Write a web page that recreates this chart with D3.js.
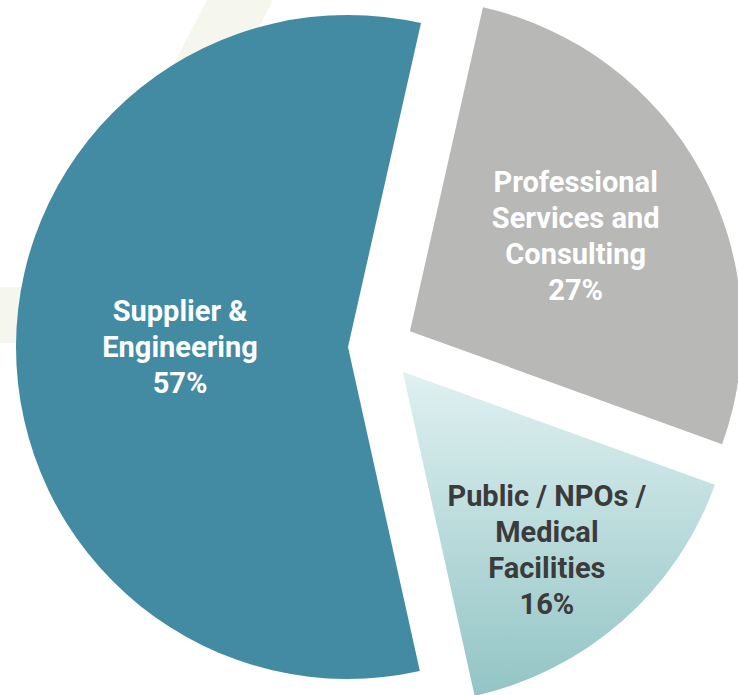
<!DOCTYPE html>
<html>
<head>
<meta charset="utf-8">
<script src="https://cdn.jsdelivr.net/npm/d3@7"></script>
<style>
  html, body { margin: 0; padding: 0; background: #ffffff; }
  svg { display: block; }
  text { font-family: Roboto, "Noto Sans", sans-serif; font-weight: 700; }
</style>
</head>
<body>
<svg id="chart" width="738" height="695"></svg>
<script>
// ---- data ----
const categories = ["Professional Services and Consulting", "Public / NPOs / Medical Facilities", "Supplier & Engineering"];
const values = [27, 16, 57];
const labelLines = [
  ["Professional", "Services and", "Consulting", "27%"],
  ["Public / NPOs /", "Medical", "Facilities", "16%"],
  ["Supplier &", "Engineering", "57%"]
];

// ---- style ----
const colors = ["#b8b8b7", "url(#pubGrad)", "#428ba3"];
const textColors = ["#ffffff", "#3b3b3b", "#ffffff"];
const labelRadius = [191, 229, 168];
const labelAngleShift = [-1.1, 2.3, 0]; // degrees

const W = 738, H = 695;
const cx = 381, cy = 347, R = 332, explode = 33;
const startDeg = 12.7;

const svg = d3.select("#chart");
const defs = svg.append("defs");
const g1 = defs.append("linearGradient").attr("id", "pubGrad")
  .attr("x1", 0).attr("y1", 0).attr("x2", 0).attr("y2", 1);
g1.append("stop").attr("offset", "0%").attr("stop-color", "#e0f1f1");
g1.append("stop").attr("offset", "100%").attr("stop-color", "#93c4c5");

// faint background decoration
const deco = svg.append("g").attr("fill", "#f5f6ee");
deco.append("path").attr("d", "M207,0 L273,0 L200,140 L134,140 Z");
deco.append("rect").attr("x", 0).attr("y", 287).attr("width", 120).attr("height", 56);

const pie = d3.pie().sort(null).value(d => d)
  .startAngle(startDeg * Math.PI / 180)
  .endAngle(startDeg * Math.PI / 180 + 2 * Math.PI);
const arcs = pie(values);
const arc = d3.arc().innerRadius(0).outerRadius(R);

const root = svg.append("g").attr("transform", `translate(${cx},${cy})`);

const slices = root.selectAll("g.slice").data(arcs).enter().append("g")
  .attr("class", "slice")
  .attr("transform", d => {
    const a = (d.startAngle + d.endAngle) / 2;
    return `translate(${explode * Math.sin(a)},${-explode * Math.cos(a)})`;
  });

slices.append("path").attr("d", arc).attr("fill", (d, i) => colors[i]);

slices.each(function(d, i) {
  const a = (d.startAngle + d.endAngle) / 2 + labelAngleShift[i] * Math.PI / 180;
  const lx = labelRadius[i] * Math.sin(a), ly = -labelRadius[i] * Math.cos(a);
  const lines = labelLines[i];
  const lh = 36;
  const t = d3.select(this).append("text")
    .attr("text-anchor", "middle")
    .attr("fill", textColors[i])
    .attr("font-size", 29)
    .attr("x", lx).attr("y", ly - (lines.length - 1) * lh / 2);
  lines.forEach((s, k) => {
    t.append("tspan").attr("x", lx).attr("dy", k === 0 ? "0.35em" : lh).text(s);
  });
});
</script>
</body>
</html>
